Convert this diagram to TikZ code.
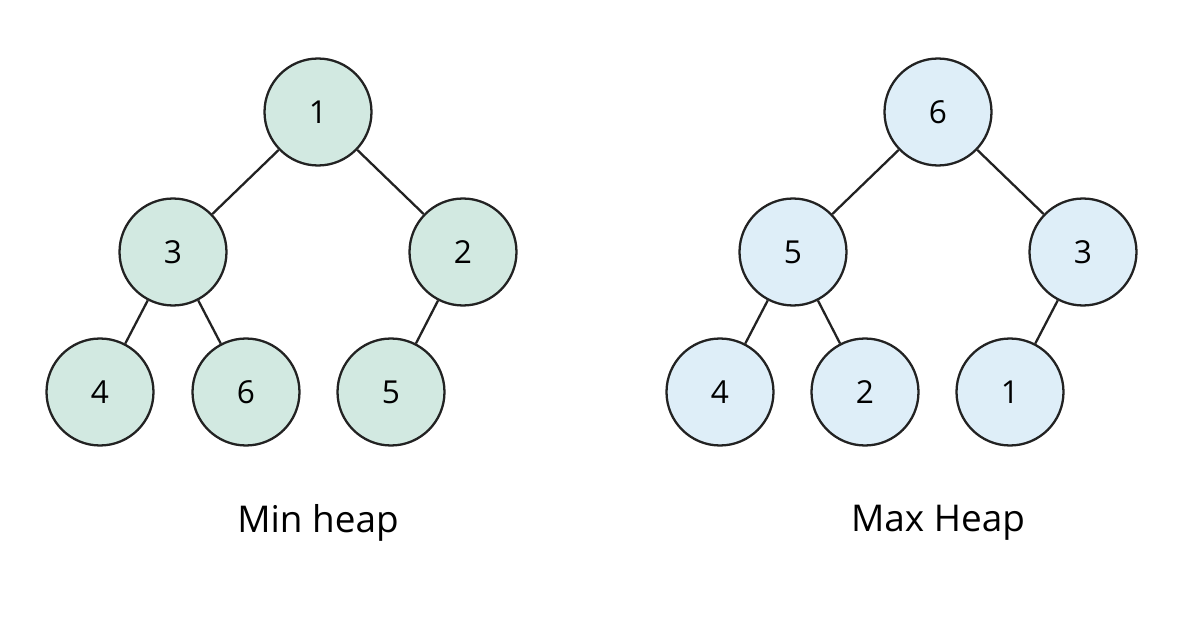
\documentclass[tikz,border=0pt]{standalone}
\usepackage{fontspec}
\setmainfont{Open Sans}
\definecolor{MinFill}{HTML}{D2E9E1}
\definecolor{MaxFill}{HTML}{DEEEF8}
\definecolor{Edge}{HTML}{222222}
\tikzset{
    heapnode/.style={circle,draw=Edge,line width=1.3pt,minimum size=2.14cm,inner sep=0pt,font=\fontsize{18}{20}\selectfont},
    minnode/.style={heapnode,fill=MinFill},
    maxnode/.style={heapnode,fill=MaxFill},
    heapedge/.style={draw=Edge,line width=1.3pt},
    caption/.style={font=\fontsize{21}{24}\selectfont}
}
\begin{document}
\begin{tikzpicture}[x=0.02cm,y=-0.02cm]
    \fill[white] (0,0) rectangle (1198,628);
    % Min heap
    \node[minnode] (m1) at (318,112) {1};
    \node[minnode] (m3) at (173,252) {3};
    \node[minnode] (m2) at (463,252) {2};
    \node[minnode] (m4) at (100,392) {4};
    \node[minnode] (m6) at (246,392) {6};
    \node[minnode] (m5) at (391,392) {5};
    \draw[heapedge] (m1) -- (m3);
    \draw[heapedge] (m1) -- (m2);
    \draw[heapedge] (m3) -- (m4);
    \draw[heapedge] (m3) -- (m6);
    \draw[heapedge] (m2) -- (m5);
    \node[caption] (minlabel) at (318,523) {Min heap};
    % Max heap
    \node[maxnode] (x6) at (938,112) {6};
    \node[maxnode] (x5) at (793,252) {5};
    \node[maxnode] (x3) at (1083,252) {3};
    \node[maxnode] (x4) at (720,392) {4};
    \node[maxnode] (x2) at (865,392) {2};
    \node[maxnode] (x1) at (1010,392) {1};
    \draw[heapedge] (x6) -- (x5);
    \draw[heapedge] (x6) -- (x3);
    \draw[heapedge] (x5) -- (x4);
    \draw[heapedge] (x5) -- (x2);
    \draw[heapedge] (x3) -- (x1);
    \node[caption] (maxlabel) at (938,523) {Max Heap};
\end{tikzpicture}
\end{document}
